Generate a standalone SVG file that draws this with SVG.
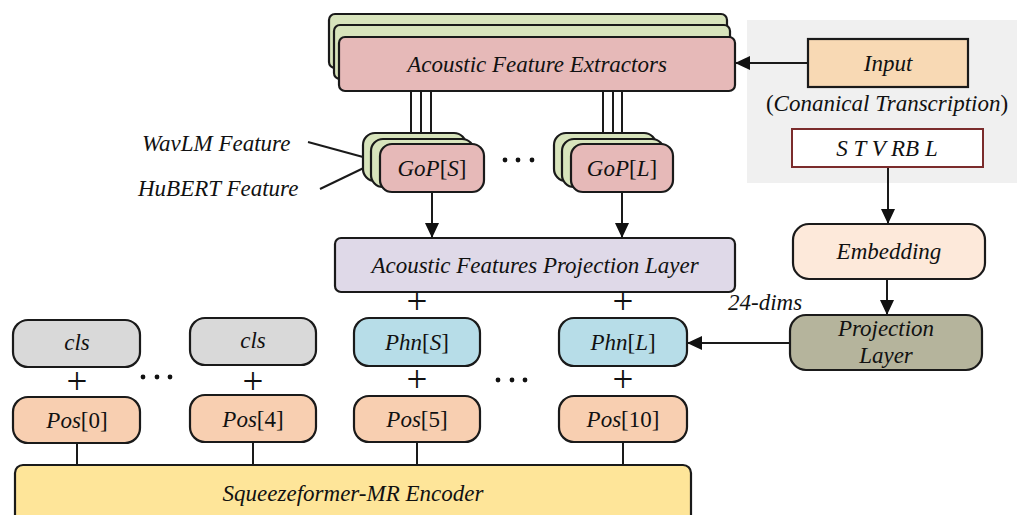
<svg xmlns="http://www.w3.org/2000/svg" width="1019" height="515" viewBox="0 0 1019 515">
  <style>
    .t { font-family: "Liberation Serif", "Times New Roman", serif; font-style: italic; font-size: 23px; fill: #111; text-anchor: middle; }
    .s { text-anchor: start; }
    .u { font-style: normal; }
    .plus { font-family: "Liberation Serif", "Times New Roman", serif; font-size: 37px; fill: #111; text-anchor: middle; }
    .b { stroke: #1a1a1a; stroke-width: 2.2; }
    .green { fill: #d8e4bc; }
    .pink { fill: #e6b9b8; }
    .cls { fill: #d9d9d9; }
    .phn { fill: #b7dde8; }
    .pos { fill: #f8cfb1; }
    .ln { stroke: #1a1a1a; stroke-width: 2; fill: none; }
    .dot { fill: #111; }
  </style>
  <defs>
    <marker id="arr" markerUnits="userSpaceOnUse" markerWidth="15" markerHeight="14" refX="15" refY="7" orient="auto">
      <path d="M0,0 L15,7 L0,14 z" fill="#111"/>
    </marker>
  </defs>

  <!-- transcription panel -->
  <rect id="panel" x="747" y="20" width="270" height="163" fill="#f0f0f0"/>

  <!-- connectors -->
  <g id="connectors">
    <!-- extractor to GoP feature streams -->
    <line class="ln" x1="411" y1="91" x2="411" y2="133"/>
    <line class="ln" x1="421" y1="91" x2="421" y2="139"/>
    <line class="ln" x1="431" y1="91" x2="431" y2="144"/>
    <line class="ln" x1="603" y1="91" x2="603" y2="133"/>
    <line class="ln" x1="613" y1="91" x2="613" y2="139"/>
    <line class="ln" x1="622" y1="91" x2="622" y2="144"/>
    <!-- input to extractors -->
    <line class="ln" x1="808" y1="63" x2="735" y2="63" marker-end="url(#arr)"/>
    <!-- GoP to projection layer -->
    <line class="ln" x1="432" y1="192" x2="432" y2="238" marker-end="url(#arr)"/>
    <line class="ln" x1="622" y1="192" x2="622" y2="238" marker-end="url(#arr)"/>
    <!-- phoneme path -->
    <line class="ln" x1="888" y1="167" x2="888" y2="224" marker-end="url(#arr)"/>
    <line class="ln" x1="887" y1="279" x2="887" y2="315" marker-end="url(#arr)"/>
    <line class="ln" x1="790" y1="343" x2="687" y2="343" marker-end="url(#arr)"/>
    <!-- label pointers -->
    <line class="ln" x1="308" y1="142" x2="363" y2="157"/>
    <line class="ln" x1="320" y1="189" x2="372" y2="164"/>
    <!-- positions to encoder -->
    <line class="ln" x1="77" y1="443" x2="77" y2="465"/>
    <line class="ln" x1="253" y1="442" x2="253" y2="465"/>
    <line class="ln" x1="417" y1="442" x2="417" y2="465"/>
    <line class="ln" x1="623" y1="442" x2="623" y2="465"/>
  </g>

  <!-- acoustic feature extractors (stacked) -->
  <g id="extractors">
    <rect class="b green" x="329" y="14" width="398" height="54" rx="6"/>
    <rect class="b green" x="334" y="25" width="396" height="54" rx="6"/>
    <rect class="b pink" x="339" y="37" width="396" height="54" rx="6"/>
    <text class="t" x="537" y="72">Acoustic Feature Extractors</text>
  </g>

  <g id="input">
    <rect class="b" x="808" y="39" width="160" height="48" fill="#f8d9b4"/>
    <text class="t" x="888" y="71">Input</text>
  </g>
  <text class="t" x="887" y="111"><tspan class="u">(</tspan>Conanical Transcription<tspan class="u">)</tspan></text>

  <g id="phoneme-seq">
    <rect x="792" y="129" width="191" height="38" fill="#fff" stroke="#7b2c2c" stroke-width="2"/>
    <text class="t" x="887" y="156">S T V RB L</text>
  </g>

  <g id="gop-s">
    <rect class="b green" x="363" y="133" width="103" height="48" rx="12"/>
    <rect class="b green" x="371" y="139" width="103" height="48" rx="12"/>
    <rect class="b pink" x="380" y="144" width="104" height="48" rx="12"/>
    <text class="t" x="432" y="176">GoP<tspan class="u">[</tspan>S<tspan class="u">]</tspan></text>
  </g>

  <g id="gop-l">
    <rect class="b green" x="554" y="133" width="102" height="48" rx="12"/>
    <rect class="b green" x="562" y="139" width="102" height="48" rx="12"/>
    <rect class="b pink" x="571" y="144" width="102" height="48" rx="12"/>
    <text class="t" x="622" y="176">GoP<tspan class="u">[</tspan>L<tspan class="u">]</tspan></text>
  </g>

  <text class="t s" x="142" y="151">WavLM Feature</text>
  <text class="t s" x="138" y="196">HuBERT Feature</text>

  <g id="dots-gop">
    <circle class="dot" cx="505" cy="160" r="2.4"/>
    <circle class="dot" cx="518" cy="160" r="2.4"/>
    <circle class="dot" cx="532" cy="160" r="2.4"/>
  </g>

  <g id="acoustic-projection">
    <rect class="b" x="335" y="238" width="400" height="54" rx="6" fill="#dfd9e8"/>
    <text class="t" x="535" y="273">Acoustic Features Projection Layer</text>
  </g>

  <g id="embedding">
    <rect class="b" x="793" y="224" width="192" height="55" rx="16" fill="#fde9da"/>
    <text class="t" x="889" y="259">Embedding</text>
  </g>

  <g id="phone-projection">
    <rect class="b" x="790" y="315" width="192" height="55" rx="16" fill="#b5b49c"/>
    <text class="t" x="886" y="336">Projection</text>
    <text class="t" x="886" y="363">Layer</text>
  </g>
  <text class="t s" x="728" y="310">24-dims</text>

  <!-- token column labels -->
  <g id="cls-0">
    <rect class="b cls" x="13" y="320" width="127" height="47" rx="15"/>
    <text class="t" x="77" y="350">cls</text>
  </g>
  <g id="cls-4">
    <rect class="b cls" x="190" y="318" width="126" height="47" rx="15"/>
    <text class="t" x="253" y="348">cls</text>
  </g>
  <g id="phn-s">
    <rect class="b phn" x="354" y="318" width="126" height="48" rx="15"/>
    <text class="t" x="417" y="350">Phn<tspan class="u">[</tspan>S<tspan class="u">]</tspan></text>
  </g>
  <g id="phn-l">
    <rect class="b phn" x="559" y="318" width="128" height="48" rx="15"/>
    <text class="t" x="623" y="350">Phn<tspan class="u">[</tspan>L<tspan class="u">]</tspan></text>
  </g>

  <g id="pos-0">
    <rect class="b pos" x="13" y="397" width="127" height="46" rx="15"/>
    <text class="t" x="77" y="428">Pos<tspan class="u">[0]</tspan></text>
  </g>
  <g id="pos-4">
    <rect class="b pos" x="190" y="395" width="126" height="47" rx="15"/>
    <text class="t" x="253" y="427">Pos<tspan class="u">[4]</tspan></text>
  </g>
  <g id="pos-5">
    <rect class="b pos" x="354" y="396" width="126" height="46" rx="15"/>
    <text class="t" x="417" y="427">Pos<tspan class="u">[5]</tspan></text>
  </g>
  <g id="pos-10">
    <rect class="b pos" x="559" y="396" width="128" height="46" rx="15"/>
    <text class="t" x="623" y="427">Pos<tspan class="u">[10]</tspan></text>
  </g>

  <!-- summation signs -->
  <g id="plus-signs">
    <text class="plus" x="417" y="314">+</text>
    <text class="plus" x="623" y="314">+</text>
    <text class="plus" x="77" y="394">+</text>
    <text class="plus" x="253" y="394">+</text>
    <text class="plus" x="417" y="392">+</text>
    <text class="plus" x="623" y="392">+</text>
  </g>

  <g id="dots-tokens">
    <circle class="dot" cx="143" cy="377" r="2.4"/>
    <circle class="dot" cx="157" cy="377" r="2.4"/>
    <circle class="dot" cx="170" cy="377" r="2.4"/>
    <circle class="dot" cx="498" cy="380" r="2.4"/>
    <circle class="dot" cx="512" cy="380" r="2.4"/>
    <circle class="dot" cx="525" cy="380" r="2.4"/>
  </g>

  <g id="encoder">
    <rect class="b" x="15" y="465" width="676" height="62" rx="8" fill="#fee599"/>
    <text class="t" x="353" y="501">Squeezeformer-MR Encoder</text>
  </g>
</svg>
